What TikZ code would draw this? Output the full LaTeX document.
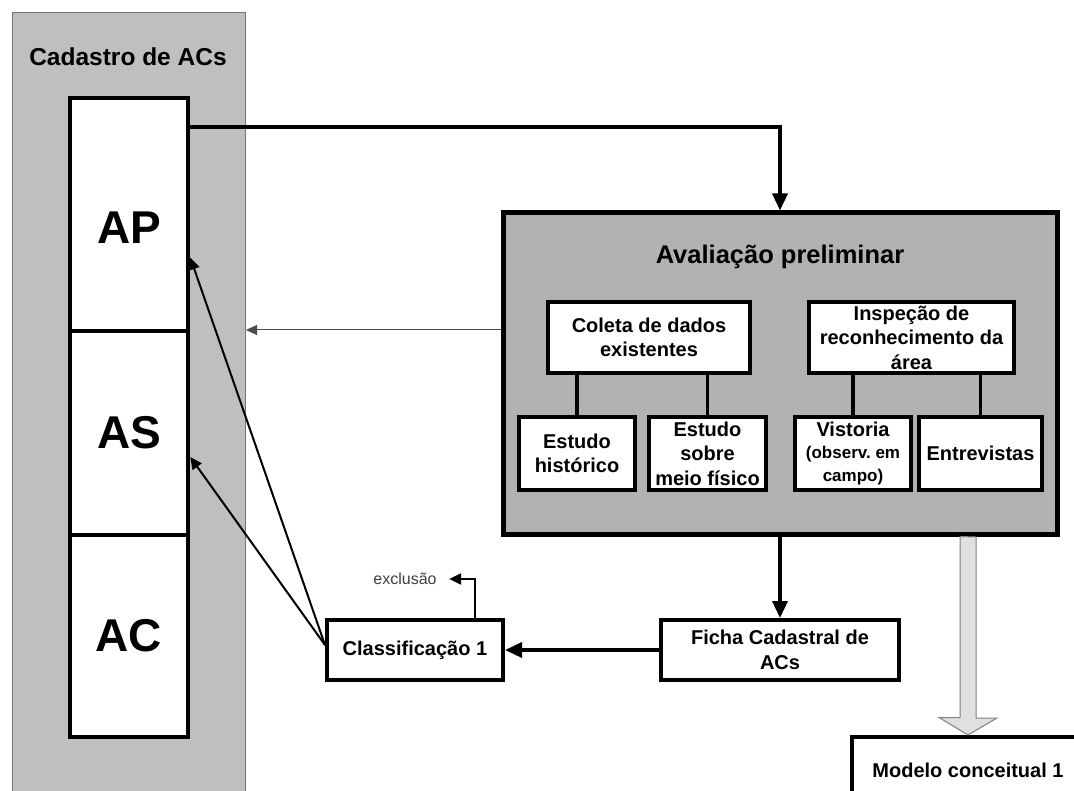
\documentclass[tikz,border=0pt]{standalone}
\usepackage{fontspec}
\setmainfont{Liberation Sans}
\usetikzlibrary{arrows.meta}
\frenchspacing

\newcommand{\subfont}{\bfseries\fontsize{20}{24.5}\selectfont}
\newcommand{\tinyfont}{\bfseries\fontsize{17}{22}\selectfont}

\begin{document}
\begin{tikzpicture}[x=1pt, y=-1pt,
    panel/.style={draw=black!55, line width=1pt, fill=black!25},
    colbox/.style={draw, line width=4.5pt, fill=white, minimum width=118pt,
      inner sep=0pt, font=\bfseries\fontsize{46}{50}\selectfont},
    bigbox/.style={draw, line width=5pt, fill=black!30},
    box/.style={draw, line width=4pt, fill=white, align=center, inner sep=0pt,
      font=\subfont},
    link/.style={line width=3.5pt},
    thick arrow/.style={-{Triangle[length=17pt,width=15pt]}, line width=3.5pt},
    mid arrow/.style={-{Triangle[length=12pt,width=11pt]}, line width=2pt},
    thin arrow/.style={-{Triangle[length=11pt,width=10pt]}, line width=1pt, black!70},
    hollow/.style={draw=black!50, line width=1pt, fill=black!12}]
  \useasboundingbox (0,0) rectangle (1074,791);
  \begin{scope}
  \clip (0,0) rectangle (1074,791);

  % cadastro
  \node[panel, anchor=north west, minimum width=233pt, minimum height=800pt] (cadastro) at (12,12) {};
  \node[font=\bfseries\fontsize{24.5}{29}\selectfont] (cadtitle) at (128,57) {Cadastro de ACs};
  \node[colbox, minimum height=233pt] (AP) at (129,214.5) {};
  \node[font=\bfseries\fontsize{46}{50}\selectfont] (APtxt) at (129,228) {AP};
  \node[colbox, minimum height=204pt] (AS) at (129,433) {AS};
  \node[colbox, minimum height=202pt] (AC) at (129,636) {AC};

  % avaliacao preliminar
  \node[bigbox, minimum width=554pt, minimum height=321pt] (aval) at (780,373.5) {};
  \node[font=\bfseries\fontsize{25.5}{30}\selectfont] (avaltitle) at (780,257) {Avaliação preliminar};
  \node[box, minimum width=202pt, minimum height=71pt] (coleta) at (649,337.5) {Coleta de dados\\existentes};
  \node[box, minimum width=205pt, minimum height=71pt] (inspecao) at (911.5,337.5) {Inspeção de\\reconhecimento da\\área};
  \node[box, minimum width=116pt, minimum height=73pt] (hist) at (577,453.5) {Estudo\\histórico};
  \node[box, minimum width=117pt, minimum height=73pt] (meio) at (707.5,453.5) {Estudo\\sobre\\meio físico};
  \node[box, minimum width=116pt, minimum height=73pt] (vistoria) at (853,453.5)
    {Vistoria\\[-2pt]{\tinyfont(observ. em}\\[-2pt]{\tinyfont campo)}};
  \node[box, minimum width=123pt, minimum height=73pt] (entrev) at (980.5,453.5) {Entrevistas};

  \draw[link] (hist.north) -- (hist.north |- coleta.south);
  \draw[link] (meio.north) -- (meio.north |- coleta.south);
  \draw[link] (vistoria.north) -- (vistoria.north |- inspecao.south);
  \draw[link] (entrev.north) -- (entrev.north |- inspecao.south);

  % ficha e classificacao
  \node[box, minimum width=238pt, minimum height=60pt] (ficha) at (780,650) {Ficha Cadastral de\\ACs};
  \node[box, minimum width=176pt, minimum height=60pt] (class) at (415,650) {Classificação 1};
  \node[font=\fontsize{16}{19}\selectfont, text=black!75] (excl) at (405,579) {exclusão};

  \node[box, anchor=north, minimum width=232pt, inner ysep=26pt, text depth=40pt,
    font=\bfseries\fontsize{20}{24}\selectfont] (modelo) at (968,735) {Modelo conceitual 1};

  \path (aval.south -| modelo.north) coordinate (hs);
  \draw[hollow] (hs) ++(-8,0) -- ++(0,181) -- ++(-21,0) -- (modelo.north)
    -- ++(29,-17) -- ++(-21,0) -- ++(0,-181) -- cycle;

  % setas
  \draw[thick arrow] (AP.east |- 0,127) -| (aval.north);
  \draw[thin arrow] (aval.west |- 0,330) -- (cadastro.east |- 0,330);
  \draw[thick arrow] (aval.south) -- (ficha.north);
  \draw[thick arrow] (ficha) -- (class);
  \draw[mid arrow] ([xshift=60pt]class.north) |- ([xshift=9pt]excl.east);
  \draw[mid arrow] ([yshift=5pt]class.west) -- ([yshift=-43pt]AP.east);
  \draw[mid arrow] ([yshift=5pt]class.west) -- ([yshift=-24pt]AS.east);
  \end{scope}
\end{tikzpicture}
\end{document}
